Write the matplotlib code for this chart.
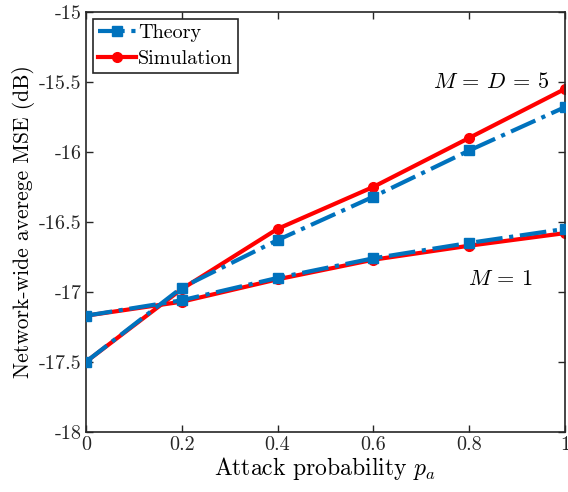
import matplotlib
matplotlib.use("Agg")
import matplotlib.pyplot as plt

plt.rcParams['font.family'] = 'serif'
plt.rcParams['font.serif'] = ['cmr10']
plt.rcParams['mathtext.fontset'] = 'cm'
plt.rcParams['axes.unicode_minus'] = False

pa = [0, 0.2, 0.4, 0.6, 0.8, 1.0]
# M = D = 5
theory_m5 = [-17.5, -16.97, -16.63, -16.32, -15.99, -15.68]
sim_m5 = [-17.5, -16.98, -16.55, -16.25, -15.90, -15.55]
# M = 1
theory_m1 = [-17.17, -17.06, -16.90, -16.76, -16.65, -16.55]
sim_m1 = [-17.17, -17.07, -16.91, -16.77, -16.67, -16.58]

yticks = [-18, -17.5, -17, -16.5, -16, -15.5, -15]
xticks = [0, 0.2, 0.4, 0.6, 0.8, 1]

blue = '#0072BD'
red = '#FF0000'

fig = plt.figure(figsize=(5.68, 4.92), dpi=100)
ax = fig.add_axes([0.151, 0.122, 0.844, 0.854])

ax.plot(pa, sim_m5, '-o', color=red, lw=3, ms=7, zorder=2)
ax.plot(pa, sim_m1, '-o', color=red, lw=3, ms=7, zorder=2)
h_t, = ax.plot(pa, theory_m5, '-.s', color=blue, lw=3, ms=7, zorder=3)
ax.plot(pa, theory_m1, '-.s', color=blue, lw=3, ms=7, zorder=3)
h_s, = ax.plot([], [], '-o', color=red, lw=3, ms=7)

ax.set_xlim(0, 1)
ax.set_ylim(-18, -15)
ax.set_xticks(xticks)
ax.set_xticklabels(['0', '0.2', '0.4', '0.6', '0.8', '1'])
ax.set_yticks(yticks)
ax.set_yticklabels(['-18', '-17.5', '-17', '-16.5', '-16', '-15.5', '-15'])
ax.tick_params(direction='in', top=True, right=True, labelsize=14.5, length=5, width=1,
               colors='#262626', pad=3)
for s in ax.spines.values():
    s.set_linewidth(1.2)
    s.set_color('#262626')

ax.set_xlabel('Attack probability $p_a$', fontsize=17, labelpad=1)
ax.set_ylabel('Network-wide averege MSE (dB)', fontsize=15.5, labelpad=3)

ax.text(0.845, -15.5, '$M$ = $D$ = 5', fontsize=16, ha='center', va='center')
ax.text(0.865, -16.91, '$M$ = 1', fontsize=16, ha='center', va='center')

leg = ax.legend([h_t, h_s], ['Theory', 'Simulation'], loc='upper left', fontsize=14.5,
                fancybox=False, edgecolor='#262626', framealpha=1, borderaxespad=0.35,
                handlelength=1.9, handletextpad=0.1, borderpad=0.25, labelspacing=0.4)
leg.get_frame().set_linewidth(1.2)

fig.savefig('out.png', dpi=100)
